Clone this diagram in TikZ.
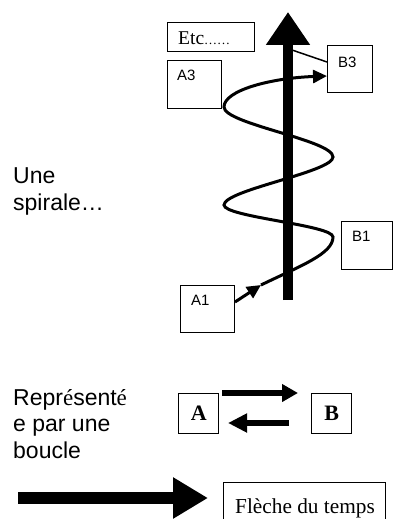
\documentclass[tikz,border=0pt]{standalone}
\usepackage{fontspec}
\setmainfont{Liberation Sans}
\newfontfamily\serif{Liberation Serif}
\usetikzlibrary{arrows.meta}
\begin{document}
\begin{tikzpicture}[x=1pt,y=-1pt,
  box/.style={draw,line width=1.4pt,inner sep=0pt,anchor=north west},
  lbl/.style={inner sep=0pt,anchor=base west,font=\fontsize{15}{17}\selectfont},
  big/.style={inner sep=0pt,align=left,anchor=base west,font=\fontsize{23}{26.5}\selectfont},
  curve/.style={line width=3pt},
  fat/.style={line width=#1}
]
\useasboundingbox (0,0) rectangle (393,519);
% boxes
\node[box,minimum width=87pt,minimum height=29pt] (etc) at (167,22) {};
\node[inner sep=0pt,anchor=base west,font=\serif\fontsize{19.5}{21}\selectfont] (etct) at (178,45) {Etc{\fontsize{13}{13}\selectfont ……}};
\node[box,minimum width=54pt,minimum height=48pt] (a3) at (167,60) {};
\node[lbl] (a3t) at (177,80) {A3};
\node[box,minimum width=45pt,minimum height=47pt] (b3) at (327,45) {};
\node[lbl] (b3t) at (338,67) {B3};
\node[box,minimum width=51pt,minimum height=48pt] (b1) at (341,221) {};
\node[lbl] (b1t) at (352,241) {B1};
\node[box,minimum width=54pt,minimum height=47pt] (a1) at (180,285) {};
\node[lbl] (a1t) at (191,305) {A1};
% spiral
\coordinate (s0) at (261,285);
\coordinate (r1) at (333,237);
\coordinate (l1) at (224,205);
\coordinate (r2) at (333,157);
\coordinate (l2) at (224,107);
\coordinate (a1s) at (235,302);
\draw[line width=3pt,-{Triangle[length=14pt,width=13pt]}] (a1s) -- (s0);
\draw[curve,-{Triangle[length=14pt,width=13pt]}] (s0) .. controls (300,266) and (333,254) .. (r1)
  .. controls (333,225) and (224,217) .. (l1)
  .. controls (224,190) and (333,172) .. (r2)
  .. controls (333,140) and (224,124) .. (l2)
  .. controls (224,90) and (272,78) .. (b3.west |- 0,76);
% time axis
\coordinate (tbot) at (288,300);
\coordinate (ttop) at (288,12);
\draw[fat=10pt,-{Triangle[length=33pt,width=42pt]}] (tbot) -- (ttop);
\coordinate (th) at (292,50);
\draw[line width=1.5pt] (b3.west |- 0,62) -- (th);
% left texts
\node[big] (t1) at (13,210) {Une\\spirale…};
\node[big] (t2) at (13,458) {Repr{\serif é}sent{\serif é}\\e par une\\boucle};
% A B loop
\node[box,minimum width=40pt,minimum height=40pt,font=\serif\bfseries\fontsize{22}{22}\selectfont] (A) at (178,393) {A};
\node[box,minimum width=40pt,minimum height=40pt,font=\serif\bfseries\fontsize{22}{22}\selectfont] (B) at (311,393) {B};
\coordinate (ab1) at (222,393);
\coordinate (ab2) at (298,393);
\coordinate (ba1) at (289,423);
\coordinate (ba2) at (228,423);
\draw[fat=6pt,-{Triangle[length=16pt,width=17pt]}] (ab1) -- (ab2);
\draw[fat=6pt,-{Triangle[length=19pt,width=18pt]}] (ba1) -- (ba2);
% arrow of time
\coordinate (f1) at (18,498);
\coordinate (f2) at (208,498);
\draw[fat=12pt,-{Triangle[length=35pt,width=39pt]}] (f1) -- (f2);
\begin{scope}
\clip (0,0) rectangle (393,519);
\node[box,minimum width=162pt,minimum height=40pt] (fl) at (223,482) {};
\end{scope}
\node[inner sep=0pt,anchor=base west,font=\serif\fontsize{21.3}{24}\selectfont] (flt) at (235,513) {Flèche du temps};
\end{tikzpicture}
\end{document}
